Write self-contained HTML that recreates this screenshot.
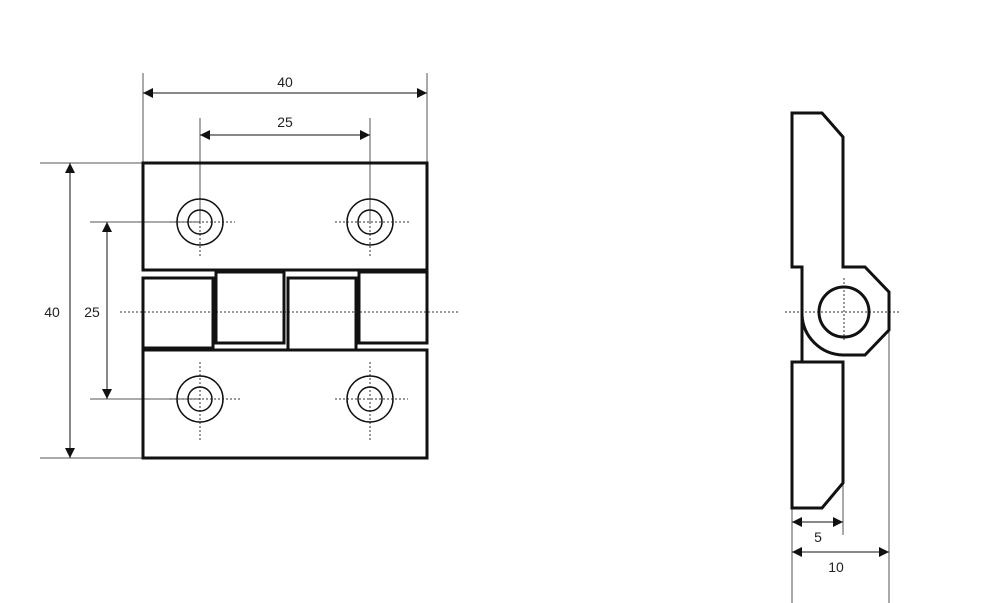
<!DOCTYPE html>
<html><head><style>body{margin:0;background:#fff}svg{display:block}text{font-family:"Liberation Sans",sans-serif;font-size:14px;fill:#222}</style></head><body>
<svg width="1000" height="603" viewBox="0 0 1000 603" xmlns="http://www.w3.org/2000/svg">
<defs><marker id="a" viewBox="0 0 10 10" refX="10" refY="5" markerWidth="16" markerHeight="10" markerUnits="userSpaceOnUse" orient="auto-start-reverse"><path d="M0,0L10,5L0,10z" fill="#111"/></marker></defs>
<g stroke="#555" stroke-width="1" fill="none">
<line x1="143" y1="73" x2="143" y2="163"/><line x1="427" y1="73" x2="427" y2="163"/>
<line x1="200" y1="118" x2="200" y2="222"/><line x1="370" y1="118" x2="370" y2="222"/>
<line x1="40" y1="163" x2="143" y2="163"/><line x1="40" y1="458" x2="143" y2="458"/>
<line x1="90" y1="222" x2="200" y2="222"/><line x1="90" y1="399" x2="200" y2="399"/>
<line x1="792" y1="508" x2="792" y2="603"/><line x1="843" y1="483" x2="843" y2="535"/><line x1="889" y1="330" x2="889" y2="603"/>
</g>
<g stroke="#111" stroke-width="1">
<line x1="143" y1="93" x2="427" y2="93" marker-start="url(#a)" marker-end="url(#a)"/>
<line x1="200" y1="135" x2="370" y2="135" marker-start="url(#a)" marker-end="url(#a)"/>
<line x1="70" y1="163" x2="70" y2="458" marker-start="url(#a)" marker-end="url(#a)"/>
<line x1="107" y1="222" x2="107" y2="399" marker-start="url(#a)" marker-end="url(#a)"/>
<line x1="792" y1="522" x2="843" y2="522" marker-start="url(#a)" marker-end="url(#a)"/>
<line x1="792" y1="552" x2="889" y2="552" marker-start="url(#a)" marker-end="url(#a)"/>
</g>
<text x="285" y="87" text-anchor="middle">40</text>
<text x="285" y="127" text-anchor="middle">25</text>
<text x="52" y="317" text-anchor="middle">40</text>
<text x="92" y="317" text-anchor="middle">25</text>
<text x="818" y="542" text-anchor="middle">5</text>
<text x="836" y="572" text-anchor="middle">10</text>
<g stroke="#333" stroke-width="1" stroke-dasharray="2,2" fill="none">
<line x1="120" y1="312" x2="460" y2="312"/>
<line x1="170" y1="222" x2="235" y2="222"/><line x1="200" y1="222" x2="200" y2="256"/>
<line x1="335" y1="222" x2="410" y2="222"/><line x1="370" y1="222" x2="370" y2="256"/>
<line x1="170" y1="399" x2="240" y2="399"/><line x1="200" y1="362" x2="200" y2="440"/>
<line x1="335" y1="399" x2="408" y2="399"/><line x1="370" y1="362" x2="370" y2="440"/>
<line x1="785" y1="312" x2="900" y2="312"/><line x1="844" y1="278" x2="844" y2="342"/>
</g>
<g stroke="#111" stroke-width="3" fill="none">
<rect x="143" y="163" width="284" height="107"/>
<rect x="143" y="350" width="284" height="108"/>
<rect x="143" y="278" width="70" height="70"/>
<rect x="216" y="272" width="68" height="71"/>
<rect x="288" y="278" width="68" height="72"/>
<rect x="359" y="272" width="68" height="71"/>
<path d="M792,113H822L843,137V267H865L889,292V330L865,355H843A42,42 0 0 1 802,315V267H792Z"/>
<path d="M792,362H843V483L822,508H792Z"/>
<line x1="802" y1="315" x2="802" y2="362"/>
</g>
<g stroke="#111" stroke-width="1.5" fill="none">
<circle cx="200" cy="222" r="23"/><circle cx="200" cy="222" r="12"/>
<circle cx="370" cy="222" r="23"/><circle cx="370" cy="222" r="12"/>
<circle cx="200" cy="399" r="23"/><circle cx="200" cy="399" r="12"/>
<circle cx="370" cy="399" r="23"/><circle cx="370" cy="399" r="12"/>
</g>
<circle cx="844" cy="312" r="25" stroke="#111" stroke-width="3" fill="none"/>
</svg>
</body></html>
